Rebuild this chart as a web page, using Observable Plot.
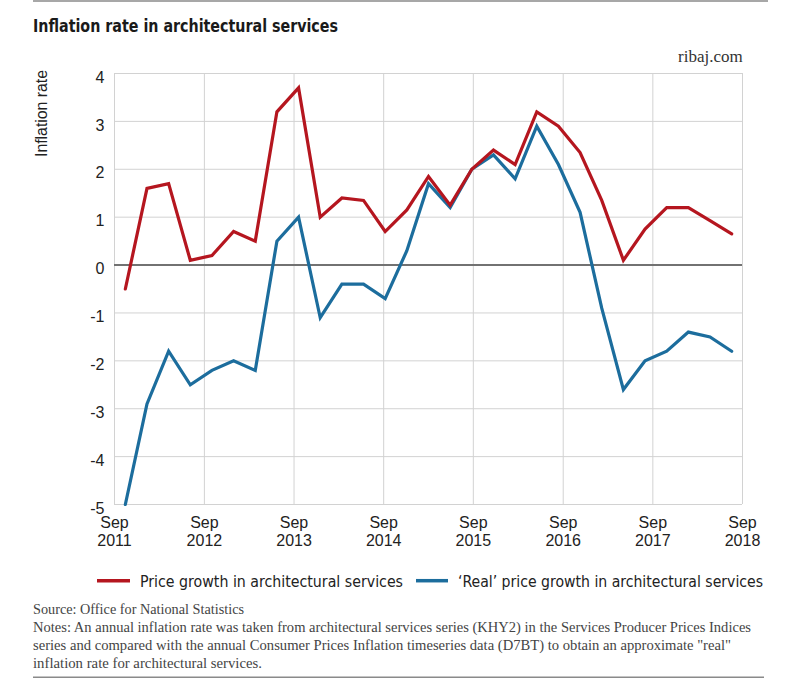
<!DOCTYPE html>
<html>
<head>
<meta charset="utf-8">
<script src="https://cdn.jsdelivr.net/npm/d3@7"></script>
<script src="https://cdn.jsdelivr.net/npm/@observablehq/plot@0.6"></script>
<style>
  html, body { margin: 0; padding: 0; background: #fff; }
  #wrap { position: relative; width: 800px; height: 679px; overflow: hidden; background: #fff; }
  .layer { position: absolute; left: 0; top: 0; }
  #deco { pointer-events: none; }
</style>
</head>
<body>
<div id="wrap">
  <div id="gridLayer" class="layer"></div>
  <div id="lineLayer" class="layer"></div>
  <svg id="deco" class="layer" width="800" height="679" xmlns="http://www.w3.org/2000/svg"></svg>
</div>
<script>
// ---- data ----
const quarters = [
  "Sep 2011","Dec 2011","Mar 2012","Jun 2012",
  "Sep 2012","Dec 2012","Mar 2013","Jun 2013",
  "Sep 2013","Dec 2013","Mar 2014","Jun 2014",
  "Sep 2014","Dec 2014","Mar 2015","Jun 2015",
  "Sep 2015","Dec 2015","Mar 2016","Jun 2016",
  "Sep 2016","Dec 2016","Mar 2017","Jun 2017",
  "Sep 2017","Dec 2017","Mar 2018","Jun 2018",
  "Sep 2018"
];
const priceGrowth = [
  -0.5, 1.6, 1.7, 0.1,
  0.2, 0.7, 0.5, 3.2,
  3.7, 1.0, 1.4, 1.35,
  0.7, 1.15, 1.85, 1.25,
  2.0, 2.4, 2.1, 3.2,
  2.9, 2.35, 1.35, 0.1,
  0.75, 1.2, 1.2, 0.93,
  0.65
];
const realGrowth = [
  -5.0, -2.9, -1.8, -2.5,
  -2.2, -2.0, -2.2, 0.5,
  1.0, -1.1, -0.4, -0.4,
  -0.7, 0.3, 1.7, 1.2,
  2.0, 2.3, 1.8, 2.9,
  2.1, 1.1, -0.9, -2.6,
  -2.0, -1.8, -1.4, -1.5,
  -1.8
];
const yTicks = [-5, -4, -3, -2, -1, 0, 1, 2, 3, 4];
const tickYears = [2011, 2012, 2013, 2014, 2015, 2016, 2017, 2018];
const tickMonth = "Sep";
const seriesNames = ["Price growth in architectural services", "\u2018Real\u2019 price growth in architectural services"];
const seriesColors = ["#b5161f", "#1c6d9d"];
const titleText = "Inflation rate in architectural services";
const yLabel = "Inflation rate";
const siteText = "ribaj.com";
const sourceText = "Source: Office for National Statistics";
const notesLines = [
  "Notes: An annual inflation rate was taken from architectural services series (KHY2) in the Services Producer Prices Indices",
  "series and compared with the annual Consumer Prices Inflation timeseries data (D7BT) to obtain an approximate \"real\"",
  "inflation rate for architectural services."
];

// ---- shared frame ----
const W = 800, H = 560;
const M = { top: 73, right: 58, bottom: 56, left: 114 };
const sansFont = "'Liberation Sans', Arial, Helvetica, sans-serif";

const tickDates = tickYears.map(y => new Date(Date.UTC(y, 8, 1)));

// grid + axes layer (calendar scale with Sep ticks)
const gridPlot = Plot.plot({
  width: W, height: H,
  marginTop: M.top, marginRight: M.right, marginBottom: M.bottom, marginLeft: M.left,
  style: { background: "transparent", fontSize: "16px", fontFamily: sansFont, color: "#222", overflow: "visible" },
  x: { type: "utc", domain: [tickDates[0], tickDates[tickDates.length - 1]] },
  y: { domain: [-5, 4] },
  marks: [
    Plot.gridY(yTicks, { stroke: "#d2d2d2", strokeOpacity: 1, strokeWidth: 1 }),
    Plot.gridX(tickDates, { stroke: "#d2d2d2", strokeOpacity: 1, strokeWidth: 1 }),
    Plot.ruleY([0], { stroke: "#727272", strokeWidth: 2 }),
    Plot.axisY(yTicks, { tickSize: 0, tickPadding: 10, dy: 4, label: null, tickFormat: d => String(d), fill: "#222" }),
    Plot.axisX(tickDates, { tickSize: 0, tickPadding: 11, label: null, lineHeight: 1.125, fill: "#222",
      tickFormat: d => `${tickMonth}\n${d.getUTCFullYear()}` })
  ]
});
document.getElementById("gridLayer").append(gridPlot);

// line layer (quarterly categories)
const linePlot = Plot.plot({
  width: W, height: H,
  marginTop: M.top, marginRight: M.right, marginBottom: M.bottom, marginLeft: M.left,
  style: { background: "transparent", overflow: "visible" },
  x: { type: "point", domain: quarters, padding: 0.5, round: false, axis: null },
  y: { domain: [-5, 4], axis: null },
  marks: [
    Plot.line(realGrowth, { x: (d, i) => quarters[i], y: d => d, stroke: seriesColors[1], strokeWidth: 3.2, strokeLinejoin: "miter", strokeMiterlimit: 3 }),
    Plot.line(priceGrowth, { x: (d, i) => quarters[i], y: d => d, stroke: seriesColors[0], strokeWidth: 3.2, strokeLinejoin: "miter", strokeMiterlimit: 3 })
  ]
});
document.getElementById("lineLayer").append(linePlot);

// ---- decorations: title, source, legend, notes ----
const deco = d3.select("#deco");
deco.append("line").attr("x1", 33).attr("x2", 768).attr("y1", 1).attr("y2", 1)
  .attr("stroke", "#8a8a8a").attr("stroke-width", 1.5);
deco.append("text").attr("x", 33).attr("y", 32.3)
  .attr("font-family", "'Liberation Sans Narrow', 'DejaVu Sans Condensed', Roboto, sans-serif")
  .attr("font-weight", 700).attr("font-size", 18.5).attr("fill", "#1a1a1a")
  .attr("textLength", 305).attr("lengthAdjust", "spacingAndGlyphs")
  .text(titleText);
deco.append("text").attr("x", 742.7).attr("y", 61.7).attr("text-anchor", "end")
  .attr("font-family", "'Liberation Serif', 'Times New Roman', serif")
  .attr("font-size", 17).attr("fill", "#333").text(siteText);
deco.append("text").attr("transform", "translate(46.5,157) rotate(-90)")
  .attr("font-family", sansFont).attr("font-size", 16).attr("fill", "#222")
  .attr("textLength", 87).attr("lengthAdjust", "spacingAndGlyphs")
  .text(yLabel);

// legend
const legendItems = [
  { x1: 97, x2: 130, tx: 140, tw: 263 },
  { x1: 416, x2: 448, tx: 458, tw: 305 }
];
legendItems.forEach((it, i) => {
  deco.append("line").attr("x1", it.x1).attr("x2", it.x2).attr("y1", 580.7).attr("y2", 580.7)
    .attr("stroke", seriesColors[i]).attr("stroke-width", 3.5);
  deco.append("text").attr("x", it.tx).attr("y", 586.7)
    .attr("font-family", "'Liberation Sans Narrow', 'DejaVu Sans Condensed', 'Liberation Sans', sans-serif")
    .attr("font-size", 16).attr("fill", "#222")
    .attr("textLength", it.tw).attr("lengthAdjust", "spacingAndGlyphs")
    .text(seriesNames[i]);
});

// source + notes
const serif = "'Liberation Serif', 'Times New Roman', serif";
deco.append("text").attr("x", 33).attr("y", 613.5)
  .attr("font-family", serif).attr("font-size", 14.5).attr("fill", "#444")
  .attr("textLength", 211).attr("lengthAdjust", "spacingAndGlyphs")
  .text(sourceText);
const noteWidths = [718, 698, 229];
const noteBaselines = [631.7, 650, 667.5];
notesLines.forEach((t, i) => {
  deco.append("text").attr("x", 33).attr("y", noteBaselines[i])
    .attr("font-family", serif).attr("font-size", 14.5).attr("fill", "#444")
    .attr("textLength", noteWidths[i]).attr("lengthAdjust", "spacingAndGlyphs")
    .text(t);
});
deco.append("line").attr("x1", 33).attr("x2", 764).attr("y1", 677.3).attr("y2", 677.3)
  .attr("stroke", "#8a8a8a").attr("stroke-width", 1.5);
</script>
</body>
</html>
